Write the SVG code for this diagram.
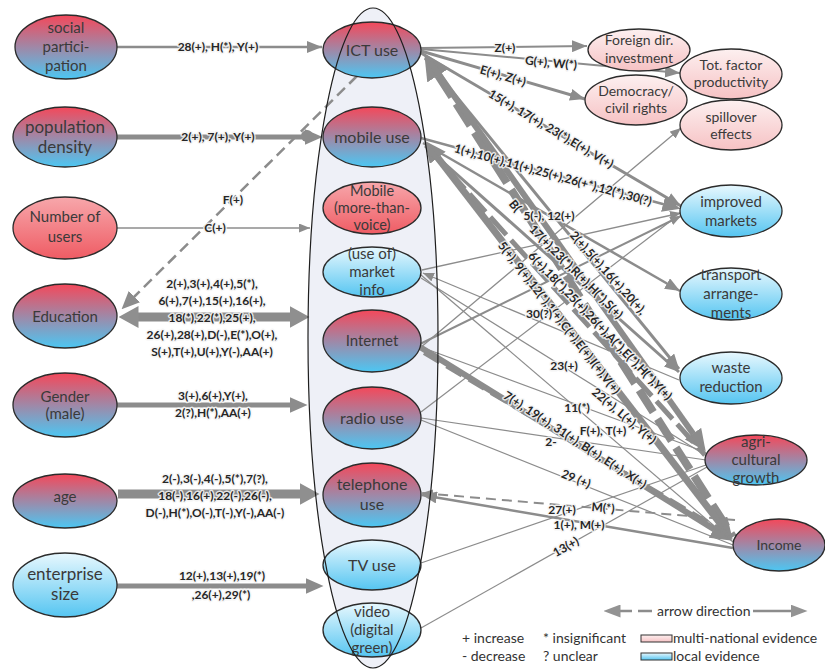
<svg xmlns="http://www.w3.org/2000/svg" width="825" height="670" viewBox="0 0 825 670">
<style>
  text { font-family: Lato, "Liberation Sans", "DejaVu Sans", sans-serif; }
  .nd { stroke: #2b2b2b; stroke-width: 1.3; }
  .nt { font-size: 15px; fill: #3a3a3a; text-anchor: middle; }
  .lb { font-size: 12px; font-weight: bold; fill: #262626; text-anchor: middle;
        stroke: #f4f4f4; stroke-width: 3; stroke-opacity: 0.85; paint-order: stroke; stroke-linejoin: round; }
  .c { stroke: #8c8c8c; fill: none; stroke-linecap: butt; }
  .lg { font-size: 14px; fill: #333; }
</style>
<defs>
  <linearGradient id="gRB" x1="0" y1="0" x2="0" y2="1">
    <stop offset="0" stop-color="#f4485a"/>
    <stop offset="1" stop-color="#4cc7f3"/>
  </linearGradient>
  <linearGradient id="gB" x1="0" y1="0" x2="0" y2="1">
    <stop offset="0" stop-color="#e8f8fe"/>
    <stop offset="1" stop-color="#55c5f1"/>
  </linearGradient>
  <linearGradient id="gR" x1="0" y1="0" x2="0" y2="1">
    <stop offset="0" stop-color="#f7a7ab"/>
    <stop offset="1" stop-color="#ef5c64"/>
  </linearGradient>
  <linearGradient id="gP" x1="0" y1="0" x2="0" y2="1">
    <stop offset="0" stop-color="#fdf0f0"/>
    <stop offset="1" stop-color="#f6c2c4"/>
  </linearGradient>
  <!-- arrowheads: "t" markers put the tip on the line end, "b" markers put the base there -->
  <marker id="tS" markerUnits="userSpaceOnUse" markerWidth="11" markerHeight="9" refX="11" refY="4.5" orient="auto">
    <path d="M0,0 L11,4.5 L0,9 z" fill="#8c8c8c"/>
  </marker>
  <marker id="tM" markerUnits="userSpaceOnUse" markerWidth="15" markerHeight="12" refX="15" refY="6" orient="auto">
    <path d="M0,0 L15,6 L0,12 z" fill="#8c8c8c"/>
  </marker>
  <marker id="bL" markerUnits="userSpaceOnUse" markerWidth="18" markerHeight="16" refX="0.5" refY="8" orient="auto-start-reverse">
    <path d="M0,0 L18,8 L0,16 z" fill="#8c8c8c"/>
  </marker>
  <marker id="bE" markerUnits="userSpaceOnUse" markerWidth="20" markerHeight="22" refX="0.5" refY="11" orient="auto-start-reverse">
    <path d="M0,0 L20,11 L0,22 z" fill="#8f8f8f"/>
  </marker>
  <marker id="bXL" markerUnits="userSpaceOnUse" markerWidth="22" markerHeight="20" refX="0.5" refY="10" orient="auto-start-reverse">
    <path d="M0,0 L22,10 L0,20 z" fill="#8c8c8c"/>
  </marker>
  <marker id="bXXL" markerUnits="userSpaceOnUse" markerWidth="26" markerHeight="26" refX="0.5" refY="13" orient="auto-start-reverse">
    <path d="M0,0 L26,13 L0,26 z" fill="#8c8c8c"/>
  </marker>
  <marker id="bLeg" markerUnits="userSpaceOnUse" markerWidth="17" markerHeight="13" refX="0.5" refY="6.5" orient="auto-start-reverse">
    <path d="M0,0 L17,6.5 L0,13 z" fill="#939393"/>
  </marker>
</defs>

<rect width="825" height="670" fill="#ffffff"/>

<!-- container of the ICT types -->
<ellipse cx="373" cy="338" rx="65" ry="330" fill="#eef0f7"/>

<g id="connectors">
  <!-- determinants of use -->
  <line class="c" x1="117" y1="47" x2="322" y2="47" stroke-width="2.5" marker-end="url(#tM)"/>
  <line class="c" x1="117" y1="137" x2="305" y2="137" stroke-width="5" marker-end="url(#bL)"/>
  <circle cx="307" cy="136" r="6" fill="#8c8c8c"/>
  <line class="c" x1="117" y1="228" x2="310" y2="228" stroke-width="1.3" marker-end="url(#tS)"/>
  <line class="c" x1="357" y1="76" x2="134" y2="297" stroke="#9a9a9a" stroke-width="2.5" stroke-dasharray="11 6" marker-end="url(#bL)"/>
  <line class="c" x1="138" y1="317" x2="290" y2="317" stroke="#cfcfcf" stroke-width="9" marker-start="url(#bE)" marker-end="url(#bE)"/>
  <line class="c" x1="117" y1="405" x2="290" y2="405" stroke-width="5" marker-end="url(#bL)"/>
  <rect x="118" y="489.5" width="20" height="9" fill="#8c8c8c"/>
  <line class="c" x1="138" y1="494" x2="300" y2="494" stroke="#cfcfcf" stroke-width="9" marker-end="url(#bE)"/>
  <line class="c" x1="117" y1="586" x2="306" y2="586" stroke-width="5" marker-end="url(#bL)"/>

  <!-- effects of use -->
  <line class="c" x1="421" y1="48" x2="587" y2="46" stroke-width="2" marker-end="url(#tM)"/>
  <line class="c" x1="421" y1="49" x2="680" y2="73" stroke-width="2" marker-end="url(#tM)"/>
  <line class="c" x1="421" y1="51" x2="585" y2="99" stroke-width="3" marker-end="url(#tM)"/>
  <line class="c" x1="421" y1="53" x2="681" y2="206" stroke-width="3" marker-end="url(#tM)"/>
  <line class="c" x1="421" y1="138" x2="663.6" y2="204.2" stroke-width="2.5" marker-end="url(#bL)"/>
  <line class="c" x1="422" y1="270" x2="681" y2="213" stroke-width="1.3" marker-end="url(#tS)"/>
  <line class="c" x1="420" y1="344" x2="681" y2="216" stroke-width="2" marker-end="url(#tS)"/>
  <line class="c" x1="420" y1="348" x2="681" y2="128" stroke-width="1.3" marker-end="url(#tS)"/>
  <line class="c" x1="421" y1="412" x2="672" y2="220" stroke-width="1.2"/>
  <line class="c" x1="423" y1="143" x2="680" y2="291" stroke-width="2.5" marker-end="url(#tM)"/>
  <line class="c" x1="425" y1="58" x2="679" y2="369" stroke-width="3" marker-end="url(#tM)"/>
  <line class="c" x1="425" y1="146" x2="679" y2="372" stroke-width="3" marker-end="url(#tM)"/>
  <line class="c" x1="438" y1="75" x2="733" y2="537" stroke="#9a9a9a" stroke-width="8" stroke-dasharray="26 8" marker-start="url(#bXXL)"/>
  <line class="c" x1="430" y1="62" x2="693.3" y2="434" stroke-width="6" marker-end="url(#bXL)"/>
  <line class="c" x1="437.5" y1="157.4" x2="719.5" y2="522.6" stroke-width="7" marker-start="url(#bXL)" marker-end="url(#bXL)"/>
  <line class="c" x1="428" y1="148" x2="705" y2="455" stroke="#a3a3a3" stroke-width="5" stroke-dasharray="24 7"/>
  <line class="c" x1="420" y1="347" x2="714.3" y2="529.4" stroke-width="6" marker-end="url(#bXL)"/>
  <line class="c" x1="424" y1="353" x2="726" y2="533" stroke="#a5a5a5" stroke-width="4" stroke-dasharray="18 8"/>
  <line class="c" x1="421" y1="347" x2="705" y2="452" stroke-width="1.2"/>
  <line class="c" x1="421" y1="275" x2="733" y2="542" stroke-width="1.2"/>
  <line class="c" x1="421" y1="278" x2="705" y2="455" stroke-width="1.2"/>
  <line class="c" x1="679" y1="380" x2="423" y2="273" stroke-width="1.3" marker-end="url(#tS)"/>
  <line class="c" x1="421" y1="420" x2="733" y2="545" stroke-width="1.2"/>
  <line class="c" x1="421" y1="418" x2="706" y2="460" stroke-width="1.2"/>
  <line class="c" x1="733" y1="548" x2="422" y2="495" stroke-width="2.5" marker-end="url(#tM)"/>
  <line class="c" x1="735" y1="520" x2="422" y2="493" stroke="#999" stroke-width="2" stroke-dasharray="10 6" marker-end="url(#tS)"/>
  <line class="c" x1="421" y1="563" x2="706" y2="465" stroke-width="1.2"/>
  <line class="c" x1="421" y1="628" x2="707" y2="467" stroke-width="1.2"/>

  <!-- labels, left -->
  <text class="lb" x="218" y="51">28(+), H(*), Y(+)</text>
  <text class="lb" x="218" y="141">2(+), 7(+), Y(+)</text>
  <text class="lb" x="233" y="204">F(+)</text>
  <text class="lb" x="215" y="232">C(+)</text>
  <text class="lb" x="212" y="288">2(+),3(+),4(+),5(*),</text>
  <text class="lb" x="212" y="305">6(+),7(+),15(+),16(+),</text>
  <text class="lb" x="212" y="322">18(*),22(*),25(+),</text>
  <text class="lb" x="212" y="339">26(+),28(+),D(-),E(*),O(+),</text>
  <text class="lb" x="212" y="356">S(+),T(+),U(+),Y(-),AA(+)</text>
  <text class="lb" x="213" y="400">3(+),6(+),Y(+),</text>
  <text class="lb" x="213" y="417">2(?),H(*),AA(+)</text>
  <text class="lb" x="215" y="483">2(-),3(-),4(-),5(*),7(?),</text>
  <text class="lb" x="215" y="500">18(-),16(+),22(-),26(-),</text>
  <text class="lb" x="215" y="517">D(-),H(*),O(-),T(-),Y(-),AA(-)</text>
  <text class="lb" x="222" y="580">12(+),13(+),19(*)</text>
  <text class="lb" x="221" y="599">,26(+),29(*)</text>

  <!-- labels, right -->
  <text class="lb" x="505" y="52">Z(+)</text>
  <text class="lb" transform="translate(551,63) rotate(5.3)" y="4">G(+), W(*)</text>
  <text class="lb" transform="translate(503,76) rotate(16)" y="4">E(+), Z(+)</text>
  <text class="lb" transform="translate(551,129) rotate(30.5)" y="4">15(+), 17(+), 23(*),E(+), V(+)</text>
  <text class="lb" transform="translate(553,175) rotate(15.3)" y="4">1(+),10(+),11(+),25(+),26(+*),12(*),30(?)</text>
  <text class="lb" transform="translate(515,206) rotate(50)" y="4">B(</text>
  <text class="lb" x="549" y="220">5(-), 12(+)</text>
  <text class="lb" transform="translate(576,272) rotate(45)" y="4">17(+),23(*),R(+),H(*),S(+)</text>
  <text class="lb" transform="translate(608,273) rotate(48)" y="4">2(+),5(+),16(+),20(+),</text>
  <text class="lb" transform="translate(600,326) rotate(46)" y="4">6(+),18(*),25(+),26(+),A(*),E(*),H(*),Y(+)</text>
  <text class="lb" transform="translate(559,318) rotate(52)" y="4">5(+), 9(+),12(*),1(+),C(+),E(+),I(+),V(+)</text>
  <text class="lb" x="539" y="318">30(?)</text>
  <text class="lb" x="564" y="370">23(+)</text>
  <text class="lb" transform="translate(624,416) rotate(40)" y="4">22(+), L(+), Y(+)</text>
  <text class="lb" x="577" y="412">11(*)</text>
  <text class="lb" x="603" y="435">F(+), T(+)</text>
  <text class="lb" x="551" y="446">2-</text>
  <text class="lb" transform="translate(575,440) rotate(33)" y="4">7(+), 19(+), 31(+), B(+), E(+), X(+)</text>
  <text class="lb" transform="translate(576,479) rotate(22)" y="4">29 (+)</text>
  <text class="lb" transform="translate(603,508) rotate(4.5)" y="4">M(*)</text>
  <text class="lb" x="562" y="514">27(+)</text>
  <text class="lb" x="579" y="529">1(+), M(+)</text>
  <text class="lb" transform="translate(566,547) rotate(-30)" y="4">13(+)</text>
</g>

<!-- determinants -->
<g id="social-participation">
  <ellipse class="nd" cx="66" cy="47" rx="51" ry="32" fill="url(#gRB)"/>
  <text class="nt" x="66" y="33">social</text>
  <text class="nt" x="66" y="52">partici-</text>
  <text class="nt" x="66" y="71">pation</text>
</g>
<g id="population-density">
  <ellipse class="nd" cx="65" cy="137" rx="52" ry="30" fill="url(#gRB)"/>
  <text class="nt" x="65" y="133" style="font-size:17px">population</text>
  <text class="nt" x="65" y="153" style="font-size:17px">density</text>
</g>
<g id="number-of-users">
  <ellipse class="nd" cx="65" cy="228" rx="52" ry="31" fill="url(#gR)"/>
  <text class="nt" x="65" y="222">Number of</text>
  <text class="nt" x="65" y="242">users</text>
</g>
<g id="education">
  <ellipse class="nd" cx="65" cy="316" rx="52" ry="32" fill="url(#gRB)"/>
  <text class="nt" x="65" y="322">Education</text>
</g>
<g id="gender">
  <ellipse class="nd" cx="65" cy="405" rx="52" ry="32" fill="url(#gRB)"/>
  <text class="nt" x="65" y="402">Gender</text>
  <text class="nt" x="65" y="419">(male)</text>
</g>
<g id="age">
  <ellipse class="nd" cx="65" cy="501" rx="52" ry="27" fill="url(#gRB)"/>
  <text class="nt" x="65" y="502">age</text>
</g>
<g id="enterprise-size">
  <ellipse class="nd" cx="65" cy="585" rx="52" ry="32" fill="url(#gB)"/>
  <text class="nt" x="65" y="580" style="font-size:17px">enterprise</text>
  <text class="nt" x="65" y="600" style="font-size:17px">size</text>
</g>

<!-- ICT types -->
<g id="ict-use">
  <ellipse class="nd" cx="372" cy="50" rx="49" ry="28" fill="url(#gRB)"/>
  <text class="nt" x="372" y="56" style="font-size:16px">ICT use</text>
</g>
<g id="mobile-use">
  <ellipse class="nd" cx="372" cy="137" rx="49" ry="30" fill="url(#gRB)"/>
  <text class="nt" x="372" y="143" style="font-size:16px">mobile use</text>
</g>
<g id="mobile-more-than-voice">
  <ellipse class="nd" cx="372" cy="208" rx="49" ry="26" fill="url(#gR)"/>
  <text class="nt" x="372" y="196" style="font-size:14.5px">Mobile</text>
  <text class="nt" x="372" y="213" style="font-size:14.5px">(more-than-</text>
  <text class="nt" x="372" y="230" style="font-size:14.5px">voice)</text>
</g>
<g id="market-info">
  <ellipse class="nd" cx="372" cy="272" rx="49" ry="25" fill="url(#gB)"/>
  <text class="nt" x="372" y="259">(use of)</text>
  <text class="nt" x="372" y="277">market</text>
  <text class="nt" x="372" y="295">info</text>
</g>
<g id="internet">
  <ellipse class="nd" cx="372" cy="341" rx="49" ry="31" fill="url(#gRB)"/>
  <text class="nt" x="372" y="346">Internet</text>
</g>
<g id="radio-use">
  <ellipse class="nd" cx="372" cy="418" rx="49" ry="31" fill="url(#gRB)"/>
  <text class="nt" x="372" y="424" style="font-size:16px">radio use</text>
</g>
<g id="telephone-use">
  <ellipse class="nd" cx="372" cy="495" rx="49" ry="32" fill="url(#gRB)"/>
  <text class="nt" x="372" y="490" style="font-size:16px">telephone</text>
  <text class="nt" x="372" y="510" style="font-size:16px">use</text>
</g>
<g id="tv-use">
  <ellipse class="nd" cx="372" cy="565" rx="49" ry="25" fill="url(#gB)"/>
  <text class="nt" x="372" y="571" style="font-size:16px">TV use</text>
</g>
<g id="video">
  <ellipse class="nd" cx="372" cy="630" rx="49" ry="27" fill="url(#gB)"/>
  <text class="nt" x="372" y="617">video</text>
  <text class="nt" x="372" y="635">(digital</text>
  <text class="nt" x="372" y="653">green)</text>
</g>

<!-- outcomes -->
<g id="foreign-direct-investment">
  <ellipse class="nd" cx="639" cy="50" rx="51" ry="21" fill="url(#gP)"/>
  <text class="nt" x="639" y="45" style="font-size:14px">Foreign dir.</text>
  <text class="nt" x="639" y="63" style="font-size:14px">investment</text>
</g>
<g id="total-factor-productivity">
  <ellipse class="nd" cx="731" cy="74" rx="51" ry="25" fill="url(#gP)"/>
  <text class="nt" x="731" y="70" style="font-size:14px">Tot. factor</text>
  <text class="nt" x="731" y="87" style="font-size:14px">productivity</text>
</g>
<g id="democracy">
  <ellipse class="nd" cx="636" cy="100" rx="51" ry="25" fill="url(#gP)"/>
  <text class="nt" x="636" y="96" style="font-size:14px">Democracy/</text>
  <text class="nt" x="636" y="113" style="font-size:14px">civil rights</text>
</g>
<g id="spillover-effects">
  <ellipse class="nd" cx="731" cy="125" rx="51" ry="25" fill="url(#gP)"/>
  <text class="nt" x="731" y="122" style="font-size:14px">spillover</text>
  <text class="nt" x="731" y="139" style="font-size:14px">effects</text>
</g>
<g id="improved-markets">
  <ellipse class="nd" cx="731" cy="211" rx="51" ry="26" fill="url(#gB)"/>
  <text class="nt" x="731" y="207">improved</text>
  <text class="nt" x="731" y="226">markets</text>
</g>
<g id="transport-arrangements">
  <ellipse class="nd" cx="731" cy="294" rx="51" ry="26" fill="url(#gB)"/>
  <text class="nt" x="731" y="280">transport</text>
  <text class="nt" x="731" y="299">arrange-</text>
  <text class="nt" x="731" y="318">ments</text>
</g>
<g id="waste-reduction">
  <ellipse class="nd" cx="731" cy="378" rx="51" ry="26" fill="url(#gB)"/>
  <text class="nt" x="731" y="373">waste</text>
  <text class="nt" x="731" y="392">reduction</text>
</g>
<g id="agricultural-growth">
  <ellipse class="nd" cx="756" cy="460" rx="51" ry="25" fill="url(#gRB)"/>
  <text class="nt" x="756" y="447">agri-</text>
  <text class="nt" x="756" y="465">cultural</text>
  <text class="nt" x="756" y="483">growth</text>
</g>
<g id="income">
  <ellipse class="nd" cx="779" cy="545" rx="46" ry="26" fill="url(#gRB)"/>
  <text class="nt" x="779" y="550" style="font-size:14px">Income</text>
</g>

<!-- outline of the container, drawn over the type nodes -->
<ellipse cx="373" cy="338" rx="65" ry="330" fill="none" stroke="#1e1e1e" stroke-width="1.2"/>

<g id="legend">
  <line class="c" x1="652" y1="611" x2="620" y2="611" stroke="#999" stroke-width="2.5" stroke-dasharray="14 6" marker-end="url(#bLeg)"/>
  <text class="lg" x="657" y="616">arrow direction</text>
  <line class="c" x1="753" y1="611" x2="791" y2="611" stroke="#999" stroke-width="2.5" marker-end="url(#bLeg)"/>
  <text class="lg" x="462" y="643">+ increase</text>
  <text class="lg" x="543" y="643">* insignificant</text>
  <text class="lg" x="462" y="661">-  decrease</text>
  <text class="lg" x="543" y="661">? unclear</text>
  <rect x="641" y="635" width="31" height="7" fill="url(#gP)" stroke="#333" stroke-width="1"/>
  <text class="lg" x="673" y="643">multi-national evidence</text>
  <rect x="641" y="653" width="31" height="7" fill="url(#gB)" stroke="#333" stroke-width="1"/>
  <text class="lg" x="673" y="661">local evidence</text>
</g>
</svg>
